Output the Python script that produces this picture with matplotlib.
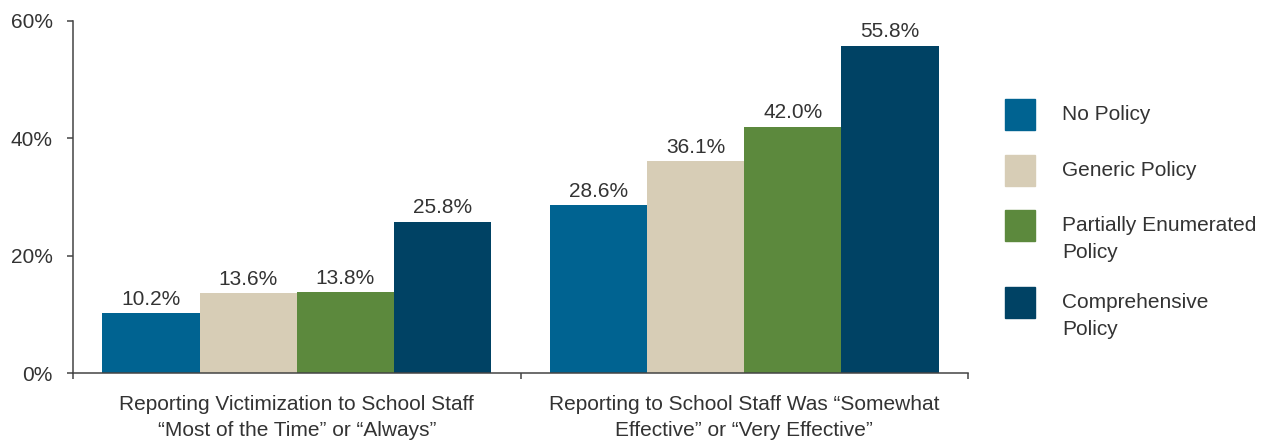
import matplotlib.pyplot as plt
from matplotlib.patches import Rectangle
import numpy as np

# data
groups = ['Reporting Victimization to School Staff\n\u201cMost of the Time\u201d or \u201cAlways\u201d',
          'Reporting to School Staff Was \u201cSomewhat\nEffective\u201d or \u201cVery Effective\u201d']
series = ['No Policy', 'Generic Policy', 'Partially Enumerated\nPolicy', 'Comprehensive\nPolicy']
no_policy = [10.2, 28.6]
generic = [13.6, 36.1]
partial = [13.8, 42.0]
comprehensive = [25.8, 55.8]
colors = ['#006391', '#d7cdb6', '#5c893d', '#004264']

plt.rcParams['font.family'] = ['Liberation Sans', 'DejaVu Sans']
txt = '#333333'
axcol = '#444444'
fs = 15

fig = plt.figure(figsize=(12.75, 4.4), dpi=100)
ax = fig.add_axes([73/1275, 67/440, 895/1275, 352/440])

values = [no_policy, generic, partial, comprehensive]
centers = np.arange(len(groups)) + 0.5
w = 0.2173
for i, vals in enumerate(values):
    x = centers + (i - 1.5) * w
    bars = ax.bar(x, vals, width=w, color=colors[i], label=series[i])
    ax.bar_label(bars, labels=['%.1f%%' % v for v in vals], padding=3,
                 fontsize=fs, color=txt)

ax.set_xlim(0, 2)
ax.set_ylim(0, 60)
ax.set_yticks([0, 20, 40, 60])
ax.set_yticklabels(['0%', '20%', '40%', '60%'])
ax.set_xticks([0, 1, 2])
ax.set_xticklabels(['', '', ''])
ax.set_xticks(centers, minor=True)
ax.set_xticklabels(groups, minor=True, fontsize=fs, color=txt, linespacing=1.45)
ax.tick_params(axis='x', which='minor', length=0, pad=16)
ax.tick_params(axis='both', which='major', length=4.5, width=1.1, color=axcol,
               labelsize=fs, labelcolor=txt)
ax.tick_params(axis='y', pad=10)
for s in ['top', 'right']:
    ax.spines[s].set_visible(False)
for s in ['left', 'bottom']:
    ax.spines[s].set_color(axcol)
    ax.spines[s].set_linewidth(1.1)

# legend drawn by hand so the square lines up with the first text line
sq_tops = [99, 155, 210, 287]
for i, name in enumerate(series):
    top = sq_tops[i]
    fig.add_artist(Rectangle((1005/1275, 1 - (top + 31)/440), 30/1275, 31/440,
                             transform=fig.transFigure, color=colors[i]))
    yc = top + 15.5
    if '\n' in name:
        yc += 13.5
    fig.text(1062/1275, 1 - yc/440, name, fontsize=fs, color=txt,
             va='center', ha='left', linespacing=1.55)

fig.savefig('out.png', dpi=100)
